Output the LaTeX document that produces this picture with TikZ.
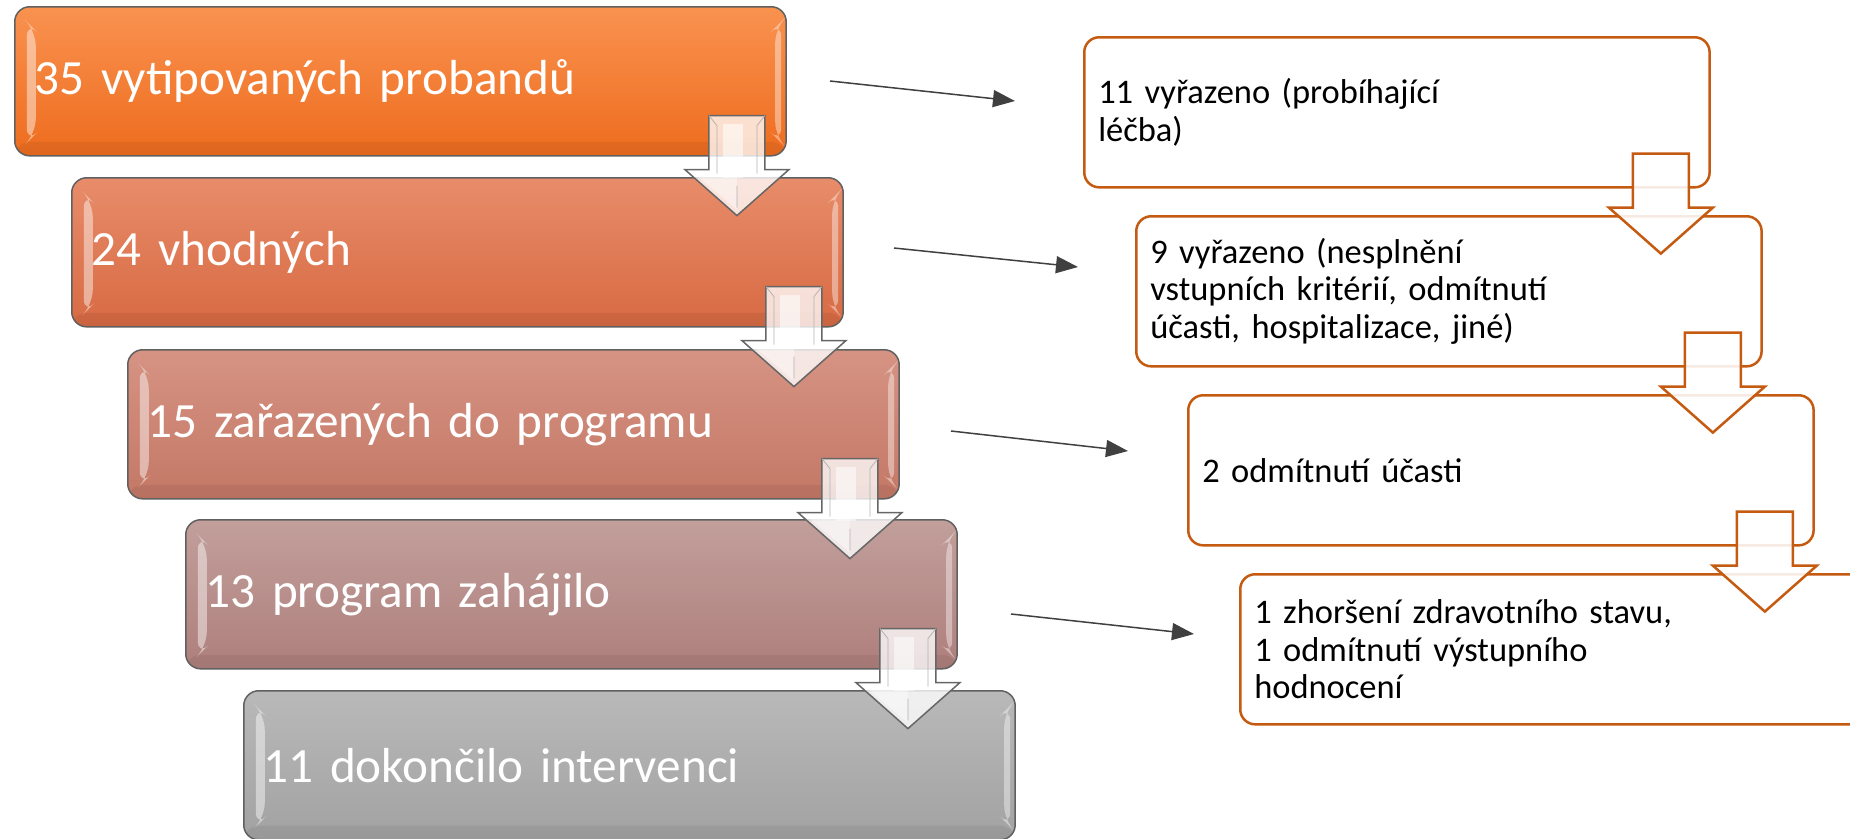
\documentclass[tikz,border=0pt]{standalone}
\usepackage{fontspec}
\setmainfont{Carlito}
\usetikzlibrary{positioning}
\usetikzlibrary{calc}
\usetikzlibrary{arrows.meta}
\definecolor{stageAt}{HTML}{F99250}
\definecolor{stageAb}{HTML}{EE6C1E}
\definecolor{stageBt}{HTML}{E88C6A}
\definecolor{stageBb}{HTML}{D76A43}
\definecolor{stageCt}{HTML}{D69383}
\definecolor{stageCb}{HTML}{C47866}
\definecolor{stageDt}{HTML}{C29F9B}
\definecolor{stageDb}{HTML}{AE7F7C}
\definecolor{stageEt}{HTML}{B9B9B9}
\definecolor{stageEb}{HTML}{A2A2A2}
\definecolor{dropline}{HTML}{C55A11}
\definecolor{thinline}{HTML}{404040}
\tikzstyle{gloss}=[
    {path picture={
        \fill[white, opacity=0.45]
        ($(path picture bounding box.north west)+(0.12cm,-0.15cm)$) --
        ($(path picture bounding box.north west)+(0.21cm,-0.24cm)$) --
        ($(path picture bounding box.south west)+(0.21cm,0.22cm)$) --
        ($(path picture bounding box.south west)+(0.12cm,0.13cm)$) -- cycle;
        \fill[white, opacity=0.4]
        ($(path picture bounding box.north east)+(-0.05cm,-0.15cm)$) --
        ($(path picture bounding box.north east)+(-0.11cm,-0.21cm)$) --
        ($(path picture bounding box.south east)+(-0.11cm,0.19cm)$) --
        ($(path picture bounding box.south east)+(-0.05cm,0.13cm)$) -- cycle;
        \fill[black, opacity=0.06]
        ($(path picture bounding box.south west)+(0cm,0.14cm)$) rectangle
        (path picture bounding box.south east);
      }
    }
]
\tikzstyle{stage}=[rounded corners=0.15cm, draw=gray!75!black, line width=0.015cm,
    minimum width=7.71cm, minimum height=1.49cm, text width=7.31cm,
    inner xsep=0.2cm, inner ysep=0pt, align=left, anchor=north west,
    text=white, font=\fontsize{14}{17}\selectfont, gloss]
\tikzstyle{dropout}=[rounded corners=0.15cm, draw=dropline, line width=0.025cm, fill=white,
    minimum width=6.25cm, minimum height=1.5cm, text width=5.97cm,
    inner xsep=0.14cm, inner ysep=0pt, align=left, anchor=north west,
    font=\fontsize{9.8}{10.6}\selectfont]
\tikzstyle{thinarr}=[-{Triangle[length=0.22cm,width=0.17cm]}, draw=thinline, fill=thinline, line width=0.015cm]
\tikzset{
  pics/blockarr/.style={code={
    \path[pic actions] (-28,0) -- (28,0) -- (28,54) -- (52,54) -- (0,100) -- (-52,54) -- (-28,54) -- cycle;
  }},
  pics/bevelarr/.style={code={
    \path[fill=white, fill opacity=0.78, draw=gray!80!black, line width=0.015cm]
      (-28,0) -- (28,0) -- (28,54) -- (52,54) -- (0,100) -- (-52,54) -- (-28,54) -- cycle;
    \fill[white, opacity=0.55] (-14,8) rectangle (6,62);
    \fill[white, opacity=0.4] (-40,60) -- (0,60) -- (0,94) -- cycle;
    \draw[gray!60, line width=0.008cm] (-28,0) -- (-20,10) -- (-20,58) (28,0) -- (20,10) -- (20,58) (0,92) -- (0,70);
  }}
}

\begin{document}
\begin{tikzpicture}[x=0.01cm, y=-0.01cm]
  \useasboundingbox (0,0) rectangle (1850,839);
  \clip (0,0) rectangle (1850,839);
  % left column
  \node[stage, top color=stageAt, bottom color=stageAb] (b1) at (14,6) {35 vytipovaných probandů};
  \node[stage, top color=stageBt, bottom color=stageBb] (b2) at (71,177) {24 vhodných};
  \node[stage, top color=stageCt, bottom color=stageCb] (b3) at (127,349) {15 zařazených do programu};
  \node[stage, top color=stageDt, bottom color=stageDb] (b4) at (185,519) {13 program zahájilo};
  \node[stage, top color=stageEt, bottom color=stageEb] (b5) at (243,690) {11 dokončilo intervenci};
  \foreach \i in {1,...,4}
    \pic at ($(b\i.south east)+(-50,-41)$) {bevelarr};
  % right column
  \node[dropout] (r1) at (1083,36) {11 vyřazeno (probíhající\\léčba)};
  \node[dropout] (r2) at (1135,215) {9 vyřazeno (nesplnění\\vstupních kritérií, odmítnutí\\účasti, hospitalizace, jiné)};
  \node[dropout] (r3) at (1187,394) {2 odmítnutí účasti};
  \node[dropout] (r4) at (1239,573) {1 zhoršení zdravotního stavu,\\1 odmítnutí výstupního\\hodnocení};
  \foreach \i in {1,...,3}
    \pic[fill=white, fill opacity=0.88, draw=dropline, line width=0.025cm]
      at ($(r\i.south east)+(-50,-35)$) {blockarr};
  % side arrows
  \coordinate (s1) at (830,81);
  \coordinate (t1) at (1015,101);
  \coordinate (s2) at (894,248);
  \coordinate (t2) at (1078,267);
  \coordinate (s3) at (951,431);
  \coordinate (t3) at (1128,451);
  \coordinate (s4) at (1011,614);
  \coordinate (t4) at (1194,634);
  \foreach \i in {1,...,4}
    \draw[thinarr] (s\i) -- (t\i);
\end{tikzpicture}
\end{document}
